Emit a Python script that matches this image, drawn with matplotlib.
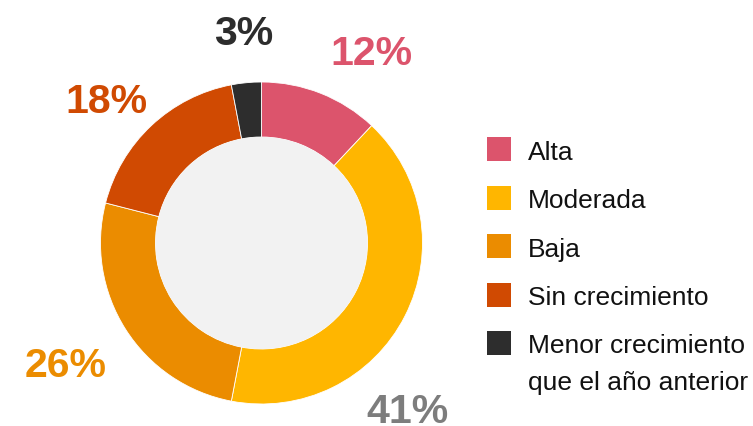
import matplotlib
matplotlib.use("Agg")
import matplotlib.pyplot as plt
from matplotlib.patches import Circle, Rectangle

# ---- data ----
categories = ["Alta", "Moderada", "Baja", "Sin crecimiento",
              "Menor crecimiento\nque el año anterior"]
values = [12, 41, 26, 18, 3]
value_labels = ["12%", "41%", "26%", "18%", "3%"]

# ---- styles / layout ----
colors = ["#dc546c", "#ffb600", "#eb8c00", "#d04a02", "#2d2d2d"]
label_colors = ["#dc546c", "#7d7d7d", "#eb8c00", "#d04a02", "#2d2d2d"]
label_pos = [(371, 65), (408, 423), (66, 377), (106, 113), (244, 45)]  # center-x, baseline (pixel, top-origin)

W, H = 753, 427
cx, cy = 261.5, 244
R_out, R_in = 161, 106

plt.rcParams['font.family'] = ['Liberation Sans', 'DejaVu Sans']

fig = plt.figure(figsize=(W / 100, H / 100), dpi=100)
ax = fig.add_axes([0, 0, 1, 1])

ax.pie(values, colors=colors, startangle=90, counterclock=False,
       radius=R_out, center=(cx, H - cy),
       wedgeprops=dict(width=R_out - R_in, linewidth=0.6, edgecolor="white"))
ax.add_patch(Circle((cx, H - cy), R_in, facecolor="#f2f2f2", edgecolor="none"))

for lab, col, (x, y) in zip(value_labels, label_colors, label_pos):
    ax.text(x, H - y, lab, color=col, fontsize=29.5, fontweight="bold",
            ha="center", va="baseline")

# legend
sq = 24
line_px = 37
for i, (cat, col) in enumerate(zip(categories, colors)):
    yc = 150 + i * 48.5
    ax.add_patch(Rectangle((487, H - yc - sq / 2), sq, sq, facecolor=col,
                           edgecolor="none"))
    for k, line in enumerate(cat.split("\n")):
        ax.text(528, H - (yc + 9.5 + k * line_px), line, fontsize=19,
                color="#111111", ha="left", va="baseline")

ax.set_xlim(0, W)
ax.set_ylim(0, H)
ax.set_aspect("auto")
ax.axis("off")

fig.savefig("out.png", dpi=100)
